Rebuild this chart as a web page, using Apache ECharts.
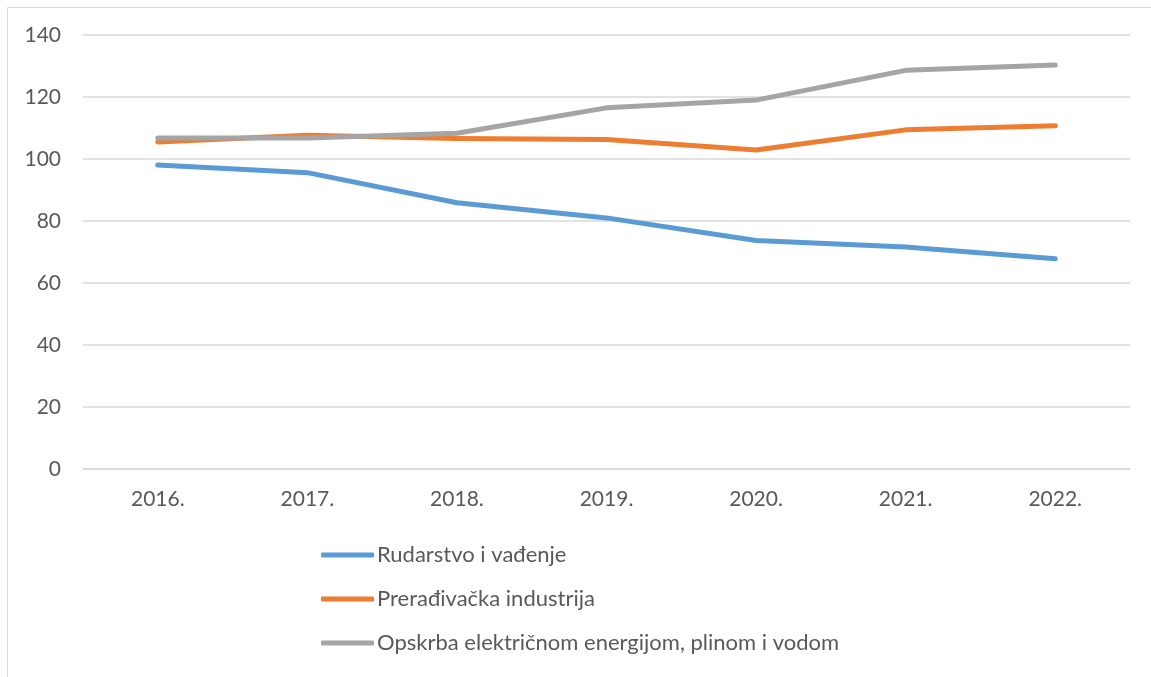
<!DOCTYPE html>
<html>
<head>
<meta charset="utf-8">
<script src="https://cdn.jsdelivr.net/npm/echarts@6/dist/echarts.min.js"></script>
<style>
  html, body { margin: 0; padding: 0; background: #fff; }
  #main { width: 1151px; height: 677px; }
</style>
</head>
<body>
<div id="main"></div>
<script>
// godine (kategorije)
var years = ['2016.', '2017.', '2018.', '2019.', '2020.', '2021.', '2022.'];

// vrijednosti po djelatnostima (očitano s grafa)
var rudarstvo = [98.1, 95.6, 85.9, 81.0, 73.7, 71.6, 67.8];
var preradjivacka = [105.5, 107.7, 106.6, 106.3, 102.9, 109.4, 110.7];
var opskrba = [106.8, 106.8, 108.3, 116.5, 119.0, 128.6, 130.3];

var seriesNames = [
    'Rudarstvo i vađenje',
    'Prerađivačka industrija',
    'Opskrba električnom energijom, plinom i vodom'
];
var colors = ['#5B9BD5', '#ED7D31', '#A5A5A5'];

var myChart = echarts.init(document.getElementById('main'));

var textFont = 'Lato, "Open Sans", sans-serif';

function lineSeries(name, data, color) {
    return {
        name: name,
        type: 'line',
        data: data,
        symbol: 'none',
        smooth: false,
        lineStyle: { color: color, width: 5, cap: 'round', join: 'round' },
        itemStyle: { color: color }
    };
}

var option = {
    animation: false,
    color: colors,
    // okvir grafa
    graphic: [{
        type: 'rect',
        shape: { x: 7.5, y: 7.5, width: 1150, height: 680 },
        style: { fill: 'none', stroke: '#D9D9D9', lineWidth: 1 },
        silent: true
    }],
    grid: {
        left: 83,
        right: 21,
        top: 35,
        height: 434,
        containLabel: false
    },
    legend: {
        orient: 'vertical',
        left: 316,
        top: 539,
        itemGap: 22,
        itemWidth: 53,
        itemHeight: 5,
        icon: 'roundRect',
        textStyle: { color: '#595959', fontSize: 22, fontFamily: textFont, padding: [0, 0, 0, -2] },
        data: seriesNames
    },
    xAxis: {
        type: 'category',
        data: years,
        boundaryGap: true,
        axisLine: { show: true, lineStyle: { color: '#D9D9D9', width: 1.5 } },
        axisTick: { show: false },
        axisLabel: { color: '#595959', fontSize: 21, fontFamily: textFont, margin: 20 }
    },
    yAxis: {
        type: 'value',
        min: 0,
        max: 140,
        interval: 20,
        axisLine: { show: false },
        axisTick: { show: false },
        axisLabel: { color: '#595959', fontSize: 21, fontFamily: textFont, margin: 22 },
        splitLine: { lineStyle: { color: '#D9D9D9', width: 1.5 } }
    },
    series: [
        lineSeries(seriesNames[0], rudarstvo, colors[0]),
        lineSeries(seriesNames[1], preradjivacka, colors[1]),
        lineSeries(seriesNames[2], opskrba, colors[2])
    ]
};

myChart.setOption(option);
</script>
</body>
</html>
